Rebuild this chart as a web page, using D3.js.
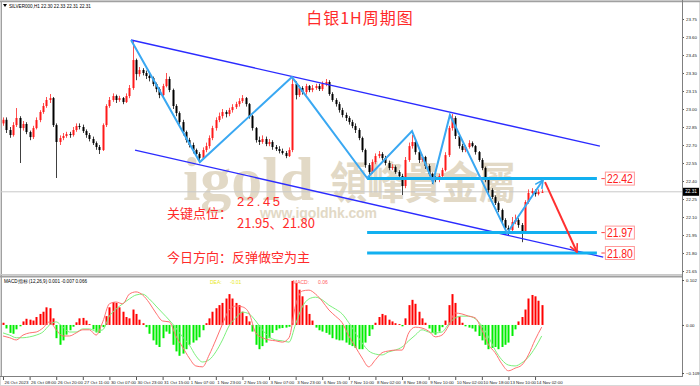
<!DOCTYPE html>
<html>
<head>
<meta charset="utf-8">
<script src="https://cdn.jsdelivr.net/npm/d3@7"></script>
<style>
  body { margin: 0; background: #fff; }
  svg { display: block; font-family: "Liberation Sans", Arial, sans-serif; }
</style>
</head>
<body>
<div id="chart"></div>
<script>
// ---- data (2-hour bars) ----
const firstOpen = 22.88;
const closes = [
  22.91,22.825,22.783,22.866,22.925,22.841,22.875,22.808,22.766,22.841,
  22.908,22.975,23.025,23.075,23.091,22.866,22.725,22.758,22.775,22.791,
  22.783,22.825,22.858,22.85,22.816,22.783,22.75,22.716,22.683,22.658,
  22.866,23.025,23.075,23.108,23.075,23.091,23.058,23.108,23.175,23.408,
  23.291,23.325,23.30,23.275,23.258,23.208,23.166,23.116,23.191,23.25,
  23.158,23.025,22.966,22.891,22.808,22.741,22.70,22.658,22.625,22.591,
  22.658,22.691,22.758,22.841,22.908,22.941,22.975,22.958,22.991,23.016,
  23.041,23.066,23.091,23.041,22.941,22.841,22.741,22.725,22.75,22.708,
  22.725,22.683,22.666,22.65,22.633,22.608,22.658,23.208,23.116,23.175,
  23.141,23.191,23.158,23.175,23.191,23.166,23.208,23.225,23.125,23.075,
  23.041,22.991,22.95,22.925,22.891,22.858,22.825,22.758,22.658,22.533,
  22.475,22.558,22.608,22.625,22.591,22.55,22.508,22.516,22.475,22.441,
  22.358,22.575,22.691,22.725,22.641,22.575,22.60,22.525,22.458,22.425,
  22.408,22.441,22.491,22.616,22.841,22.925,22.775,22.691,22.658,22.683,
  22.716,22.691,22.641,22.575,22.508,22.408,22.325,22.266,22.216,22.158,
  22.075,22.008,21.991,22.058,22.075,22.033,21.975,22.225,22.30,22.316,
  22.291,22.308,22.31
];
const highs = [
  22.93,22.93,22.85,22.89,23.008,22.94,22.90,22.89,22.82,22.86,
  22.93,22.99,23.05,23.10,23.125,23.10,22.88,22.78,22.80,22.81,
  22.81,22.85,22.88,22.88,22.87,22.83,22.80,22.77,22.73,22.70,
  22.88,23.04,23.10,23.13,23.12,23.11,23.10,23.13,23.20,23.575,
  23.42,23.35,23.34,23.32,23.29,23.27,23.22,23.18,23.21,23.30,
  23.27,23.17,23.04,22.98,22.91,22.82,22.76,22.72,22.67,22.64,
  22.68,22.72,22.78,22.86,22.93,22.97,23.00,22.99,23.01,23.04,
  23.06,23.09,23.116,23.10,23.05,22.95,22.85,22.77,22.78,22.77,
  22.75,22.74,22.70,22.69,22.67,22.65,22.68,23.266,23.23,23.20,
  23.19,23.21,23.20,23.20,23.21,23.21,23.23,23.25,23.24,23.14,
  23.09,23.06,23.01,22.97,22.94,22.91,22.88,22.84,22.77,22.67,
  22.55,22.58,22.63,22.65,22.64,22.61,22.57,22.54,22.53,22.49,
  22.46,22.60,22.72,22.783,22.74,22.66,22.62,22.61,22.54,22.47,
  22.44,22.46,22.51,22.64,22.86,22.958,22.94,22.79,22.71,22.70,
  22.74,22.73,22.70,22.65,22.59,22.52,22.42,22.34,22.28,22.23,
  22.17,22.09,22.03,22.10,22.12,22.09,22.05,22.24,22.33,22.34,
  22.33,22.33,22.33
];
const lows = [
  22.86,22.80,22.76,22.77,22.85,22.55,22.82,22.79,22.74,22.75,
  22.83,22.89,22.96,23.01,23.05,22.85,22.425,22.70,22.74,22.76,
  22.76,22.77,22.81,22.83,22.80,22.76,22.73,22.70,22.66,22.625,
  22.65,22.85,23.01,23.06,23.05,23.06,23.04,23.05,23.09,23.16,
  23.24,23.27,23.28,23.25,23.23,23.19,23.14,23.09,23.10,23.18,
  23.14,23.00,22.94,22.87,22.78,22.72,22.68,22.63,22.60,22.55,
  22.58,22.64,22.67,22.74,22.82,22.89,22.92,22.93,22.94,22.97,
  23.00,23.02,23.05,23.02,22.92,22.82,22.72,22.70,22.71,22.69,
  22.69,22.66,22.65,22.63,22.62,22.59,22.60,22.64,23.08,23.10,
  23.12,23.12,23.14,23.14,23.16,23.15,23.15,23.19,23.11,23.06,
  23.02,22.97,22.93,22.90,22.87,22.84,22.80,22.74,22.64,22.51,
  22.425,22.46,22.54,22.59,22.57,22.53,22.49,22.49,22.46,22.42,
  22.283,22.34,22.56,22.67,22.62,22.55,22.56,22.50,22.44,22.375,
  22.39,22.39,22.43,22.48,22.60,22.82,22.75,22.67,22.64,22.64,
  22.67,22.68,22.62,22.56,22.49,22.39,22.30,22.25,22.20,22.14,
  22.05,21.99,21.95,21.98,22.04,22.01,21.89,21.96,22.21,22.28,
  22.27,22.28,22.30
];
const macdHist = [
  0.005,-0.008,-0.018,-0.02,-0.01,-0.003,0.008,0.014,0.012,0.01,
  0.018,0.025,0.03,0.04,0.038,0.015,-0.03,-0.045,-0.035,-0.022,
  -0.012,-0.004,0.006,0.015,0.016,0.01,0.002,-0.01,-0.017,-0.018,
  -0.005,0.02,0.04,0.052,0.05,0.04,0.03,0.018,0.015,0.035,
  0.025,0.012,0.004,-0.005,-0.02,-0.035,-0.045,-0.05,-0.03,-0.015,
  -0.02,-0.045,-0.06,-0.07,-0.065,-0.055,-0.045,-0.04,-0.035,-0.028,
  -0.012,0.004,0.015,0.03,0.038,0.045,0.05,0.06,0.07,0.06,
  0.05,0.045,0.03,0.02,0.008,-0.015,-0.045,-0.055,-0.048,-0.04,
  -0.03,-0.018,-0.012,-0.008,-0.007,-0.006,-0.004,0.1,0.095,0.08,
  0.065,0.045,0.025,0.01,-0.006,-0.012,-0.015,-0.018,-0.022,-0.03,
  -0.033,-0.035,-0.035,-0.04,-0.045,-0.048,-0.052,-0.055,-0.055,-0.04,
  -0.025,-0.01,0.005,0.018,0.025,0.022,0.012,0.008,0.004,0.002,
  -0.003,0.015,0.045,0.057,0.048,0.03,0.015,0.005,-0.008,-0.018,
  -0.022,-0.015,-0.005,0.01,0.045,0.07,0.05,0.02,0.005,-0.003,
  -0.006,-0.008,-0.015,-0.025,-0.035,-0.045,-0.055,-0.052,-0.05,-0.055,
  -0.05,-0.045,-0.04,-0.025,-0.01,0.008,0.018,0.035,0.06,0.068,
  0.065,0.055,0.045
];
// DIF / DEA read at every second bar
const difLine = [
  -0.025,-0.029,-0.034,-0.023,-0.018,-0.016,-0.007,0.007,-0.011,-0.025,
  -0.025,-0.018,-0.011,-0.011,-0.023,0.007,0.048,0.052,0.048,0.07,
  0.075,0.068,0.05,0.027,0.009,0.007,-0.025,-0.05,-0.075,-0.093,
  -0.095,-0.068,-0.034,0.002,0.034,0.043,0.041,0.027,-0.018,-0.029,
  -0.034,-0.036,-0.039,-0.029,0.045,0.077,0.079,0.07,0.054,0.034,
  0.02,0.005,-0.025,-0.05,-0.075,-0.095,-0.079,-0.063,-0.059,-0.057,
  -0.057,-0.018,-0.005,-0.007,-0.014,-0.027,-0.023,-0.002,0.027,0.025,
  0.02,0.016,-0.011,-0.045,-0.063,-0.088,-0.104,-0.098,-0.091,-0.068,
  -0.034,-0.005
];
const deaLine = [
  -0.018,-0.023,-0.029,-0.029,-0.027,-0.023,-0.016,0,0.007,-0.005,
  -0.016,-0.016,-0.009,-0.009,-0.014,-0.011,0.02,0.036,0.048,0.059,
  0.068,0.07,0.059,0.043,0.027,0.011,-0.007,-0.027,-0.045,-0.07,
  -0.084,-0.079,-0.061,-0.034,-0.002,0.016,0.029,0.025,0.009,-0.011,
  -0.027,-0.034,-0.036,-0.039,0.002,0.041,0.059,0.063,0.057,0.045,
  0.036,0.025,0.005,-0.018,-0.041,-0.059,-0.066,-0.068,-0.061,-0.057,
  -0.05,-0.036,-0.023,-0.011,-0.016,-0.018,-0.016,0.002,0.016,0.02,
  0.02,0.014,-0.002,-0.027,-0.057,-0.079,-0.091,-0.093,-0.086,-0.073,
  -0.052,-0.025
];
const priceTicks = [23.75,23.60,23.45,23.30,23.15,23.00,22.85,22.70,22.55,22.40,22.25,22.10,21.95,21.80,21.65];
const macdTicks = [0.102, 0, -0.109];
const timeLabels = ["26 Oct 2023","26 Oct 08:00","26 Oct 20:00","27 Oct 11:00","30 Oct 07:00","30 Oct 23:00",
  "31 Oct 15:00","1 Nov 07:00","1 Nov 23:00","2 Nov 15:00","3 Nov 07:00","3 Nov 23:00","6 Nov 15:00",
  "7 Nov 10:00","8 Nov 02:00","8 Nov 18:00","9 Nov 10:00","10 Nov 02:00","10 Nov 18:00","13 Nov 10:00","14 Nov 02:00"];
const lastPrice = 22.31;

// annotations, in [bar index, price]
const zigzag = [[38.5,23.575],[59.2,22.558],[86.9,23.266],[109.5,22.425],[123,22.816],
  [129.3,22.391],[134.4,22.95],[151.6,21.966],[162.4,22.408]];
const channelUpper = [[38.5,23.575],[179.5,22.691]];
const channelLower = [[39.7,22.658],[180.5,21.766]];
const keyLevels = [22.42, 21.97, 21.80];
const levelSpan = [109.5, 178.6];
const forecast = [[163,22.391],[172.6,21.808]];

// ---- layout ----
const W = 700, H = 386;
const frame = {left: 1, right: 682, mainTop: 2, mainBottom: 274, macdTop: 277, macdBottom: 376};

const svg = d3.select('#chart').append('svg')
  .attr('width', W).attr('height', H);

const x = d3.scaleLinear().domain([0, 162]).range([3, 541.7]);
const y = d3.scaleLinear().domain([22.40, 23.75]).range([181, 19]);
const ym = d3.scaleLinear().domain([-0.109, 0.102]).range([373, 280]);

const defs = svg.append('defs');
defs.append('clipPath').attr('id', 'clipMain').append('rect')
  .attr('x', frame.left).attr('y', frame.mainTop)
  .attr('width', frame.right - frame.left).attr('height', frame.mainBottom - frame.mainTop);
defs.append('clipPath').attr('id', 'clipMacd').append('rect')
  .attr('x', frame.left).attr('y', frame.macdTop)
  .attr('width', frame.right - frame.left).attr('height', frame.macdBottom - frame.macdTop);

function arrowMarker(id, color) {
  defs.append('marker').attr('id', id)
    .attr('viewBox', '0 0 10 10').attr('refX', 9).attr('refY', 5)
    .attr('markerWidth', 5).attr('markerHeight', 5).attr('orient', 'auto')
    .append('path').attr('d', 'M1,1 L9,5 L1,9')
    .attr('fill', 'none').attr('stroke', color).attr('stroke-width', 1.6);
}
arrowMarker('arrowRed', '#ff3030');
arrowMarker('arrowBlue', '#33a8f0');

// frames
svg.append('rect').attr('x', 0.5).attr('y', 0.5).attr('width', W - 1).attr('height', H - 1)
  .attr('fill', '#fff').attr('stroke', '#d8d8d8');
svg.append('line').attr('x1', 0).attr('x2', W).attr('y1', 1.5).attr('y2', 1.5)
  .attr('stroke', '#a0a0a0').attr('stroke-width', 1.5);
svg.append('line').attr('x1', 1.5).attr('x2', 1.5).attr('y1', 1).attr('y2', frame.macdBottom)
  .attr('stroke', '#a0a0a0');
svg.append('line').attr('x1', 0).attr('x2', frame.right).attr('y1', frame.mainBottom + 0.5).attr('y2', frame.mainBottom + 0.5)
  .attr('stroke', '#c8c8c8');
svg.append('line').attr('x1', 0).attr('x2', frame.right).attr('y1', frame.macdTop - 0.5).attr('y2', frame.macdTop - 0.5)
  .attr('stroke', '#a0a0a0').attr('stroke-width', 2);
svg.append('line').attr('x1', 0).attr('x2', frame.right).attr('y1', frame.macdBottom + 0.5).attr('y2', frame.macdBottom + 0.5)
  .attr('stroke', '#808080');

// ---- main panel ----
const main = svg.append('g').attr('clip-path', 'url(#clipMain)');

// watermark
const wm = main.append('g').attr('fill', '#e2d9c6');
wm.append('text').attr('x', 183).attr('y', 200)
  .style('font-family', '"Liberation Serif", "DejaVu Serif", serif').style('font-weight', 'bold')
  .style('font-size', '62px').text('igold');
wm.append('text').attr('x', 330).attr('y', 199)
  .style('font-family', '"Noto Sans CJK TC", sans-serif').style('font-weight', 'bold')
  .style('font-size', '44px').attr('textLength', 186).attr('lengthAdjust', 'spacingAndGlyphs')
  .text('領峰貴金屬');
wm.append('text').attr('x', 260).attr('y', 218)
  .style('font-weight', 'bold').style('font-size', '14px')
  .attr('textLength', 117).attr('lengthAdjust', 'spacing')
  .text('www.igoldhk.com');

// current price line
main.append('line')
  .attr('x1', frame.left).attr('x2', frame.right)
  .attr('y1', y(lastPrice)).attr('y2', y(lastPrice))
  .attr('stroke', '#c8c8c8');

// candles
const candles = closes.map((c, i) => ({
  i: i, o: i ? closes[i - 1] : firstOpen, c: c, h: highs[i], l: lows[i]
}));
const cg = main.append('g');
cg.selectAll('.wick').data(candles).join('line')
  .attr('class', 'wick')
  .attr('x1', d => Math.round(x(d.i)) + 0.5).attr('x2', d => Math.round(x(d.i)) + 0.5)
  .attr('y1', d => y(d.h)).attr('y2', d => y(d.l))
  .attr('stroke', d => d.c >= d.o ? '#ff5050' : '#404040');
cg.selectAll('.body').data(candles).join('rect')
  .attr('class', 'body')
  .attr('x', d => Math.round(x(d.i)) - 0.5).attr('width', 2)
  .attr('y', d => y(Math.max(d.o, d.c)))
  .attr('height', d => Math.max(1, Math.abs(y(d.o) - y(d.c))))
  .attr('fill', d => d.c >= d.o ? '#ff1a1a' : '#000');

const line = d3.line().x(d => x(d[0])).y(d => y(d[1]));

// channel
[channelUpper, channelLower].forEach(pts => {
  main.append('path').attr('d', line(pts))
    .attr('fill', 'none').attr('stroke', '#2b2bff').attr('stroke-width', 1.3);
});

// key level lines
main.selectAll('.level').data(keyLevels).join('line')
  .attr('class', 'level')
  .attr('x1', x(levelSpan[0])).attr('x2', x(levelSpan[1]))
  .attr('y1', d => y(d)).attr('y2', d => y(d))
  .attr('stroke', '#12b0f0').attr('stroke-width', 3);

// zigzag
main.append('path').attr('d', line(zigzag))
  .attr('fill', 'none').attr('stroke', '#3aa8f2').attr('stroke-width', 2)
  .attr('stroke-linejoin', 'miter')
  .attr('marker-end', 'url(#arrowBlue)');

// forecast arrow
main.append('path').attr('d', line(forecast))
  .attr('fill', 'none').attr('stroke', '#ff3030').attr('stroke-width', 2)
  .attr('marker-end', 'url(#arrowRed)');

// level labels
const lbl = main.selectAll('.lvl-label').data(keyLevels).join('g')
  .attr('class', 'lvl-label')
  .attr('transform', d => `translate(${x(181)},${y(d)})`);
lbl.append('line').attr('x1', -3.5).attr('x2', 0).attr('y1', 0).attr('y2', 0)
  .attr('stroke', '#ff4040');
lbl.append('rect').attr('x', 0.5).attr('y', -6.5).attr('width', 29).attr('height', 13)
  .attr('fill', '#fff').attr('stroke', '#ff9a9a');
lbl.append('text').attr('x', 15).attr('y', 4.5).attr('text-anchor', 'middle')
  .style('font-size', '12.5px').attr('fill', '#ff2020')
  .attr('textLength', 26).attr('lengthAdjust', 'spacingAndGlyphs')
  .text(d => d3.format('.2f')(d));

// texts
svg.append('path').attr('d', 'M3,4 L7,4 L5,7 Z').attr('fill', '#000');
svg.append('text').attr('x', 9).attr('y', 7.5)
  .style('font-size', '4.6px').attr('fill', '#000')
  .text('SILVER000,H1  22.30 22.33 22.31 22.31');

const red = '#ff2a2a';
const cn = '"Noto Sans CJK SC", sans-serif';
svg.append('text').attr('x', 360).attr('y', 24).attr('text-anchor', 'middle')
  .style('font-family', cn).style('font-size', '16px').attr('fill', red)
  .style('letter-spacing', '1px')
  .text('白银1H周期图');
svg.append('text').attr('x', 167).attr('y', 217.5)
  .style('font-family', cn).style('font-size', '13px').attr('fill', red)
  .text('关键点位：');
svg.append('text').attr('x', 237).attr('y', 205.5)
  .style('font-size', '13px').attr('fill', red)
  .attr('textLength', 43).attr('lengthAdjust', 'spacing')
  .text('22.45');
svg.append('text').attr('x', 237).attr('y', 228)
  .style('font-family', cn).style('font-size', '13px').attr('fill', red)
  .attr('textLength', 78).attr('lengthAdjust', 'spacing')
  .text('21.95、21.80');
svg.append('text').attr('x', 167).attr('y', 261.5)
  .style('font-family', cn).style('font-size', '13px').attr('fill', red)
  .text('今日方向：反弹做空为主');

// price axis
const priceAxis = svg.append('g')
  .attr('transform', `translate(${frame.right},0)`)
  .call(d3.axisRight(y).tickValues(priceTicks).tickSize(2).tickPadding(2)
    .tickFormat(d3.format('.2f')));
priceAxis.select('.domain').remove();
priceAxis.selectAll('text').style('font-size', '4.4px').attr('fill', '#222');
priceAxis.selectAll('line').attr('stroke', '#555');

svg.append('line').attr('x1', frame.right + 0.5).attr('x2', frame.right + 0.5)
  .attr('y1', 0).attr('y2', frame.macdBottom + 1)
  .attr('stroke', '#808080');

// last price tag
svg.append('rect').attr('x', frame.right + 1).attr('y', y(lastPrice) - 4)
  .attr('width', 16).attr('height', 8).attr('fill', '#000');
svg.append('text').attr('x', frame.right + 9).attr('y', y(lastPrice) + 1.6)
  .attr('text-anchor', 'middle').style('font-size', '4.6px').attr('fill', '#fff')
  .text(d3.format('.2f')(lastPrice));

// ---- MACD panel ----
const macd = svg.append('g').attr('clip-path', 'url(#clipMacd)');
macd.selectAll('.hist').data(macdHist).join('rect')
  .attr('class', 'hist')
  .attr('x', (d, i) => Math.round(x(i)) - 0.5).attr('width', 2)
  .attr('y', d => Math.min(ym(d), ym(0)))
  .attr('height', d => Math.abs(ym(d) - ym(0)))
  .attr('fill', d => d >= 0 ? '#ff0000' : '#00ee00');

const mline = d3.line().x((d, k) => x(k * 2)).y(d => ym(d)).curve(d3.curveMonotoneX);
macd.append('path').attr('d', mline(deaLine))
  .attr('fill', 'none').attr('stroke', '#7cf07c').attr('stroke-width', 1);
macd.append('path').attr('d', mline(difLine))
  .attr('fill', 'none').attr('stroke', '#ff7070').attr('stroke-width', 1);

svg.append('text').attr('x', 4).attr('y', 283)
  .style('font-size', '4.6px').attr('fill', '#000')
  .text('MACD指标 (12,26,9) 0.001 -0.007 0.066');
svg.append('text').attr('x', 210).attr('y', 284)
  .style('font-size', '5px').attr('fill', '#e8e820').text('DEA:');
svg.append('text').attr('x', 230).attr('y', 284)
  .style('font-size', '5px').attr('fill', '#e8e820').text('-0.01');
svg.append('text').attr('x', 293).attr('y', 284)
  .style('font-size', '5px').attr('fill', '#ff6060').text('MACD:');
svg.append('text').attr('x', 318).attr('y', 284)
  .style('font-size', '5px').attr('fill', '#ff6060').text('0.06');

const macdAxis = svg.append('g')
  .attr('transform', `translate(${frame.right},0)`)
  .call(d3.axisRight(ym).tickValues(macdTicks).tickSize(2).tickPadding(2)
    .tickFormat(d => d === 0 ? '0.00' : d3.format('.3f')(d)));
macdAxis.select('.domain').remove();
macdAxis.selectAll('text').style('font-size', '4.4px').attr('fill', '#222');
macdAxis.selectAll('line').attr('stroke', '#555');

// time axis
const timeAxis = svg.append('g')
  .attr('transform', `translate(0,${frame.macdBottom + 1})`)
  .call(d3.axisBottom(x).tickValues(d3.range(0, 161, 8)).tickSize(3).tickPadding(1)
    .tickFormat((d, i) => timeLabels[i]));
timeAxis.select('.domain').remove();
timeAxis.selectAll('text').attr('text-anchor', 'start').attr('dx', 1)
  .style('font-size', '4.4px').attr('fill', '#222');
timeAxis.selectAll('line').attr('stroke', '#555');
</script>
</body>
</html>
